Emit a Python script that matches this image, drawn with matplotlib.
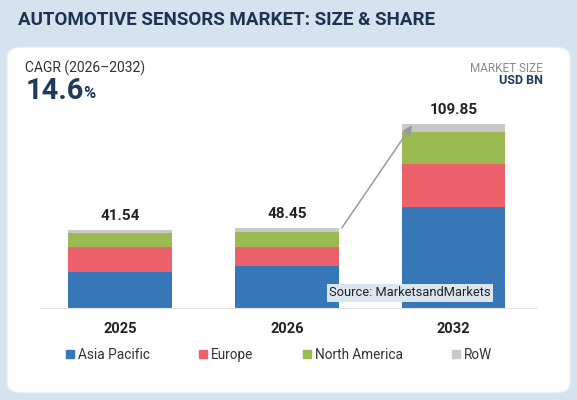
import matplotlib.pyplot as plt
from matplotlib.patches import FancyBboxPatch
from matplotlib.lines import Line2D

plt.rcParams['font.family'] = ['Roboto', 'DejaVu Sans']

# data
years = ['2025', '2026', '2032']
totals = ['41.54', '48.45', '109.85']
asia_pacific = [21.5, 25.1, 60.3]
europe = [14.9, 11.3, 25.7]
north_america = [8.4, 9.0, 19.1]
row = [1.8, 2.4, 4.8]
regions = ['Asia Pacific', 'Europe', 'North America', 'RoW']
colors = ['#3777b7', '#ec616b', '#9cba52', '#c9c9c9']

W, H = 577, 400
fig = plt.figure(figsize=(W / 100, H / 100), dpi=100, facecolor='#d5e3ef')

# white card behind everything
card = FancyBboxPatch((7 / W, 7 / H), 563 / W, 346 / H,
                      boxstyle='round,pad=0,rounding_size=0.025',
                      transform=fig.transFigure, facecolor='white',
                      edgecolor='#e3ecf4', linewidth=1, zorder=-5)
fig.patches.append(card)

fig.text(18 / W, 1 - 20 / H, 'AUTOMOTIVE SENSORS MARKET: SIZE & SHARE',
         fontsize=13.5, fontweight='bold', color='#1e3350', va='center')
fig.text(25 / W, 1 - 68 / H, 'CAGR (2026\u20132032)', fontsize=10,
         color='#333333', va='center')
fig.text(26 / W, 1 - 91 / H, '14.6', fontsize=21, fontweight='bold',
         color='#1e3a5c', va='center')
fig.text(83 / W, 1 - 94 / H, '%', fontsize=12, fontweight='bold',
         color='#1e3a5c', va='center')
fig.text(543 / W, 1 - 68 / H, 'MARKET SIZE', fontsize=8.5, color='#8a8a8a',
         ha='right', va='center')
fig.text(543 / W, 1 - 80 / H, 'USD BN', fontsize=9, fontweight='bold',
         color='#1e3a5c', ha='right', va='center')

# bars
ax = fig.add_axes([40 / W, 1 - 308 / H, 497 / W, 208 / H])
ax.set_facecolor('none')
x = range(len(years))
bottom = [0, 0, 0]
for vals, name, c in zip([asia_pacific, europe, north_america, row], regions, colors):
    ax.bar(x, vals, width=0.62, bottom=bottom, color=c, label=name)
    bottom = [b + v for b, v in zip(bottom, vals)]

for i, t in enumerate(totals):
    ax.annotate(t, (i, bottom[i]), xytext=(0, 5), textcoords='offset points',
                ha='center', va='bottom', fontsize=11, fontweight='bold',
                color='#222222')

ax.annotate('', xy=(1.75, bottom[2] - 1.0), xytext=(1.33, bottom[1]),
            arrowprops=dict(arrowstyle='-|>', color='#9a9a9a', lw=1.1,
                            mutation_scale=14, shrinkA=0, shrinkB=0))

ax.set_xlim(-0.48, 2.50)
ax.set_ylim(0, 124)
ax.set_xticks(list(x))
ax.set_xticklabels(years, fontsize=10.5, fontweight='bold', color='#222222')
ax.tick_params(axis='x', length=0, pad=10)
ax.set_yticks([])
for s in ['top', 'left', 'right']:
    ax.spines[s].set_visible(False)
ax.spines['bottom'].set_color('#e2e2e2')

fig.text(329 / W, 1 - 293 / H, 'Source: MarketsandMarkets', fontsize=9.3,
         color='#222222', va='center',
         bbox=dict(facecolor='#dbe6f1', edgecolor='none', pad=1.5))

handles = [Line2D([], [], marker='s', linestyle='none', markersize=6,
                  color=c) for c in colors]
fig.legend(handles, regions, loc='center', bbox_to_anchor=(279 / W, 1 - 355 / H),
           ncol=4, frameon=False, fontsize=9.8, handlelength=0.6,
           handletextpad=0.3, columnspacing=3.6, labelcolor='#333333')

fig.savefig('out.png', dpi=100, facecolor=fig.get_facecolor())
